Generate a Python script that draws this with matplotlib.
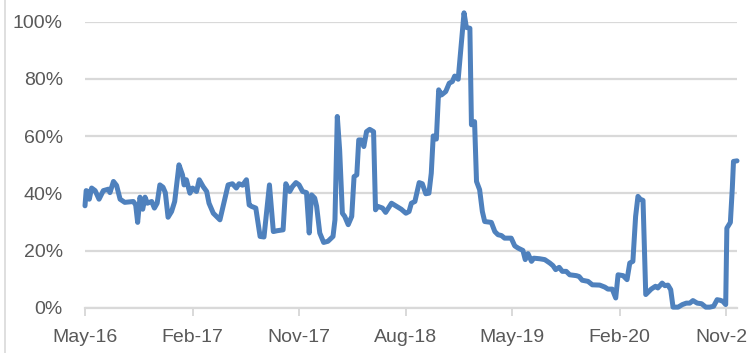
import numpy as np
import pandas as pd
import matplotlib
matplotlib.use("Agg")
import matplotlib.pyplot as plt
import matplotlib.dates as mdates
from matplotlib.ticker import PercentFormatter
from matplotlib.lines import Line2D

# traced vertices of the series (date, share)
dates = [
    "2016-05-01", "2016-05-04", "2016-05-09", "2016-05-12", "2016-05-18", "2016-05-27",
    "2016-06-06", "2016-06-17", "2016-06-30", "2016-07-04", "2016-07-13", "2016-07-21",
    "2016-07-30", "2016-08-11", "2016-09-02", "2016-09-08", "2016-09-13", "2016-09-19",
    "2016-09-26", "2016-10-02", "2016-10-08", "2016-10-19", "2016-10-26", "2016-11-02",
    "2016-11-09", "2016-11-17", "2016-11-23", "2016-11-30", "2016-12-09", "2016-12-17",
    "2016-12-28", "2017-01-06", "2017-01-10", "2017-01-16", "2017-01-21", "2017-01-25",
    "2017-02-01", "2017-02-11", "2017-02-18", "2017-02-28", "2017-03-09", "2017-03-15",
    "2017-03-26", "2017-04-12", "2017-04-22", "2017-05-03", "2017-05-14", "2017-05-24",
    "2017-05-31", "2017-06-09", "2017-06-19", "2017-06-26", "2017-07-02", "2017-07-13",
    "2017-07-24", "2017-08-03", "2017-08-17", "2017-08-27", "2017-09-06", "2017-09-21",
    "2017-09-28", "2017-10-08", "2017-10-15", "2017-10-24", "2017-11-01", "2017-11-10",
    "2017-11-20", "2017-11-27", "2017-12-03", "2017-12-11", "2017-12-16", "2017-12-24",
    "2018-01-03", "2018-01-14", "2018-01-27", "2018-02-01", "2018-02-07", "2018-02-13",
    "2018-02-20", "2018-02-26", "2018-03-07", "2018-03-16", "2018-03-22", "2018-03-29",
    "2018-04-03", "2018-04-10", "2018-04-16", "2018-04-23", "2018-05-01", "2018-05-11",
    "2018-05-16", "2018-05-22", "2018-06-03", "2018-06-11", "2018-06-26", "2018-07-09",
    "2018-07-21", "2018-08-02", "2018-08-10", "2018-08-16", "2018-08-25", "2018-09-05",
    "2018-09-13", "2018-09-22", "2018-09-30", "2018-10-06", "2018-10-11", "2018-10-19",
    "2018-10-25", "2018-11-01", "2018-11-12", "2018-11-21", "2018-11-29", "2018-12-05",
    "2018-12-14", "2018-12-22", "2018-12-29", "2019-01-04", "2019-01-13", "2019-01-17",
    "2019-01-25", "2019-01-30", "2019-02-07", "2019-02-14", "2019-02-20", "2019-03-09",
    "2019-03-18", "2019-03-26", "2019-04-04", "2019-04-12", "2019-04-29", "2019-05-08",
    "2019-05-17", "2019-05-29", "2019-06-04", "2019-06-11", "2019-06-20", "2019-06-26",
    "2019-07-11", "2019-07-24", "2019-08-06", "2019-08-14", "2019-08-21", "2019-08-30",
    "2019-09-07", "2019-09-17", "2019-09-26", "2019-10-13", "2019-10-20", "2019-10-28",
    "2019-11-12", "2019-11-23", "2019-12-12", "2019-12-25", "2020-01-02", "2020-01-13",
    "2020-01-22", "2020-01-28", "2020-02-10", "2020-02-20", "2020-02-27", "2020-03-06",
    "2020-03-13", "2020-03-19", "2020-03-25", "2020-04-01", "2020-04-08", "2020-04-14",
    "2020-04-22", "2020-05-03", "2020-05-09", "2020-05-20", "2020-05-27", "2020-06-04",
    "2020-06-11", "2020-06-17", "2020-06-30", "2020-07-11", "2020-07-21", "2020-07-30",
    "2020-08-07", "2020-08-18", "2020-08-29", "2020-09-09", "2020-09-19", "2020-09-29",
    "2020-10-08", "2020-10-16", "2020-10-23", "2020-10-30", "2020-11-02", "2020-11-11",
    "2020-11-16", "2020-11-19", "2020-11-28",
]
values = [
    35.7, 41.0, 40.7, 38.0, 41.9, 41.0,
    38.0, 41.0, 41.5, 40.3, 44.2, 42.8,
    38.0, 36.9, 37.2, 36.0, 29.9, 38.7,
    34.5, 38.7, 36.6, 37.2, 34.9, 36.6,
    43.0, 42.2, 40.3, 31.7, 33.7, 37.2,
    50.0, 46.5, 43.0, 44.8, 42.2, 40.1,
    41.9, 40.7, 44.8, 42.4, 40.7, 36.6,
    33.1, 30.8, 36.6, 43.0, 43.4, 41.9,
    43.4, 42.9, 44.8, 36.0, 35.5, 34.9,
    25.0, 24.8, 43.0, 26.7, 27.0, 27.3,
    43.4, 40.7, 42.4, 43.8, 43.0, 40.7,
    40.3, 26.2, 39.5, 38.4, 35.5, 26.2,
    22.9, 23.3, 25.0, 30.8, 66.9, 55.2,
    33.1, 32.0, 29.1, 32.0, 45.9, 46.5,
    58.7, 58.7, 56.4, 61.6, 62.4, 61.6,
    34.3, 35.5, 34.9, 33.4, 36.6, 35.5,
    34.5, 33.1, 33.7, 36.6, 37.2, 43.8,
    43.4, 39.9, 40.1, 47.1, 60.1, 59.0,
    76.2, 74.4, 75.6, 78.5, 79.1, 81.0,
    79.9, 92.4, 103.1, 98.0, 97.7, 64.0,
    65.1, 44.2, 41.3, 33.7, 30.2, 29.9,
    26.7, 25.6, 25.3, 24.4, 24.4, 21.7,
    20.9, 20.1, 16.9, 19.0, 16.3, 17.4,
    17.2, 16.9, 15.7, 14.8, 13.4, 14.2,
    12.8, 12.8, 11.6, 11.3, 11.0, 9.7,
    9.3, 8.1, 8.0, 7.3, 6.6, 6.6,
    3.5, 11.6, 11.3, 9.9, 15.7, 16.3,
    32.0, 39.0, 38.0, 37.6, 4.7, 5.5,
    6.6, 7.6, 7.0, 8.7, 7.8, 8.0,
    6.4, 0.3, 0.3, 1.2, 1.7, 1.7,
    2.6, 1.7, 1.5, 0.3, 0.3, 0.6,
    2.9, 2.7, 2.3, 1.2, 27.9, 29.9,
    41.9, 51.2, 51.4,
]
tick_dates = ["2016-05-01", "2017-02-01", "2017-11-01", "2018-08-01",
              "2019-05-01", "2020-02-01", "2020-11-01"]
tick_labels = ["May-16", "Feb-17", "Nov-17", "Aug-18", "May-19", "Feb-20", "Nov-20"]

x = pd.to_datetime(dates)
y = np.array(values) / 100

plt.rcParams['font.family'] = ['Liberation Sans', 'DejaVu Sans']
grid_col = "#d9d9d9"
text_col = "#595959"

fig = plt.figure(figsize=(7.47, 3.53), dpi=100)
ax = fig.add_axes([85 / 747, 45 / 353, 652 / 747, 286.3 / 353])

ax.plot(x, y, color="#4f81bd", lw=3.6, solid_joinstyle="round",
        solid_capstyle="round", clip_on=False, zorder=3)

ax.set_xlim(x[0], x[-1])
ax.set_ylim(0, 1.0)
ax.yaxis.set_major_locator(plt.MultipleLocator(0.2))
ax.yaxis.set_major_formatter(PercentFormatter(1.0, decimals=0))
ax.set_xticks(pd.to_datetime(tick_dates))
ax.set_xticklabels(tick_labels)

ax.grid(axis="y", color=grid_col, lw=1.6)
ax.set_axisbelow(True)
for s in ["top", "right", "left"]:
    ax.spines[s].set_visible(False)
ax.spines["bottom"].set_color(grid_col)
ax.spines["bottom"].set_linewidth(1.6)

ax.tick_params(axis="y", length=0, pad=16, labelsize=14, labelcolor=text_col)
ax.tick_params(axis="x", length=6, width=1.4, color=grid_col, pad=9,
               labelsize=14, labelcolor=text_col)

# chart area border on the left
fig.add_artist(Line2D([5 / 747, 5 / 747], [0, 1], color=grid_col, lw=1.2))

fig.savefig("out.png", dpi=100)
